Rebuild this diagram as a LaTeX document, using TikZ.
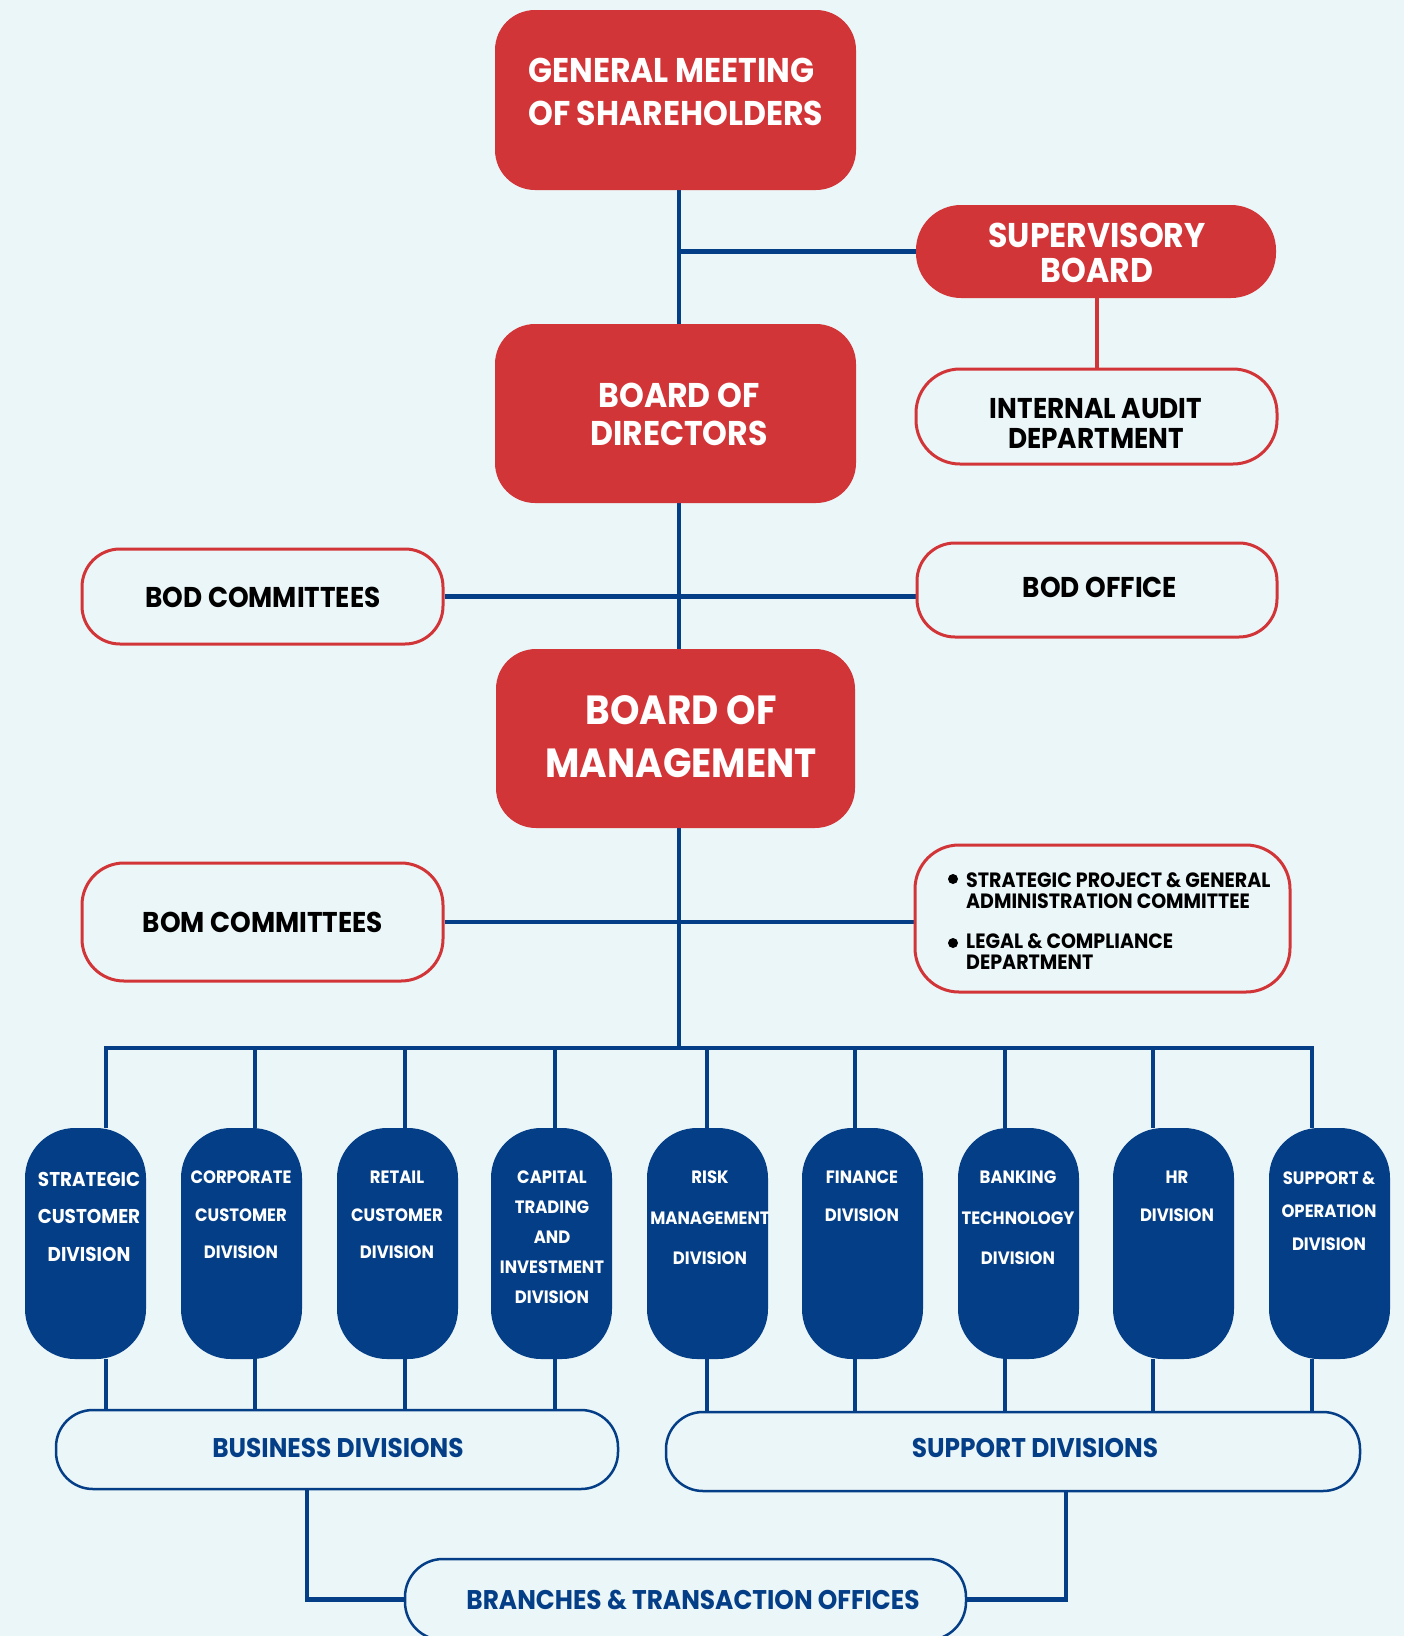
\documentclass[tikz,border=0pt]{standalone}
\usepackage{fontspec}
\newfontfamily\hf{Poppins}[FakeStretch=0.92]
\usetikzlibrary{calc}
\definecolor{bgc}{RGB}{235,246,248}
\definecolor{rc}{RGB}{210,53,56}
\definecolor{nv}{RGB}{4,62,135}
\pgfdeclarelayer{bglayer}
\pgfdeclarelayer{lines}
\pgfsetlayers{bglayer,lines,main}
\newcommand\myfs[2]{\fontsize{#1}{#2}\selectfont}
\begin{document}
\begin{tikzpicture}[x=1pt,y=-1pt,
  redbox/.style={fill=rc, rounded corners=40pt, inner sep=0pt, minimum width=361pt},
  outbox/.style={draw=rc, line width=3pt, fill=bgc, rounded corners=38pt, inner sep=0pt},
  divbox/.style={fill=nv, rounded corners=50pt, inner sep=0pt, minimum width=121pt, minimum height=231pt},
  bluebox/.style={draw=nv, line width=2.5pt, fill=bgc, rounded corners=37pt, inner sep=0pt, minimum height=79pt},
  conn/.style={draw=nv, line width=4.5pt},
  rconn/.style={draw=rc, line width=4pt},
  txt/.style={inner sep=0pt, anchor=north, align=center, font=\hf\bfseries},
  wtxt/.style={txt, text=white},
  ktxt/.style={txt, text=black},
  btxt/.style={txt, text=nv},
  dtxt/.style={wtxt, font=\hf\bfseries\myfs{17.9}{#1}},
]
\begin{pgfonlayer}{bglayer}
\fill[bgc] (0,0) rectangle (1404,1636);
\end{pgfonlayer}
\useasboundingbox (0,0) rectangle (1404,1636);
\clip (0,0) rectangle (1404,1636);

% boxes
\node[redbox, minimum height=180pt] (gm) at (675.5,100) {};
\node[redbox, minimum width=360pt, minimum height=93pt, rounded corners=45pt] (sb) at (1096,251.5) {};
\node[outbox, minimum width=361pt, minimum height=95pt, rounded corners=44pt] (ia) at (1096.5,416.5) {};
\node[redbox, minimum height=179pt] (bod) at (675.5,413.5) {};
\node[outbox, minimum width=361pt, minimum height=95pt] (bodc) at (262.5,596.5) {};
\node[outbox, minimum width=360pt, minimum height=94pt] (bodo) at (1097,590) {};
\node[redbox, minimum width=359pt, minimum height=179pt] (bom) at (675.5,738.5) {};
\node[outbox, minimum width=361pt, minimum height=118pt, rounded corners=42pt] (bomc) at (262.5,922) {};
\node[outbox, minimum width=375pt, minimum height=147pt, rounded corners=44pt] (lst) at (1102.5,918.5) {};

\node[divbox] (d1) at (85.5,1243.5) {};
\node[divbox] (d2) at (241.5,1243.5) {};
\node[divbox] (d3) at (397.5,1243.5) {};
\node[divbox] (d4) at (551.5,1243.5) {};
\node[divbox] (d5) at (707.5,1243.5) {};
\node[divbox] (d6) at (862.5,1243.5) {};
\node[divbox] (d7) at (1018.5,1243.5) {};
\node[divbox] (d8) at (1173.5,1243.5) {};
\node[divbox] (d9) at (1329.5,1243.5) {};

\node[bluebox, minimum width=562pt] (busdiv) at (337,1449.5) {};
\node[bluebox, minimum width=694pt] (supdiv) at (1013,1451.5) {};
\node[bluebox, minimum width=561pt, minimum height=81pt, rounded corners=38pt] (branch) at (685.5,1599.5) {};

% texts
\node[wtxt, anchor=north west, align=left, font=\hf\bfseries\myfs{34.3}{43}] (gmt) at (528,58) {GENERAL MEETING\\OF SHAREHOLDERS};
\node[wtxt, font=\hf\bfseries\myfs{34.3}{35}] (sbt) at (1097,223) {SUPERVISORY\\BOARD};
\node[wtxt, font=\hf\bfseries\myfs{34.3}{37.5}] (bodt) at (679,383) {BOARD OF\\DIRECTORS};
\node[ktxt, font=\hf\bfseries\myfs{28.6}{30}] (iat) at (1096,398) {INTERNAL AUDIT\\DEPARTMENT};
\node[ktxt, font=\hf\bfseries\myfs{28.6}{30}] (bodct) at (263,587) {BOD COMMITTEES};
\node[ktxt, font=\hf\bfseries\myfs{28.6}{30}] (bodot) at (1100,577) {BOD OFFICE};
\node[wtxt, font=\hf\bfseries\myfs{40.7}{53}] (bomt) at (681,695) {BOARD OF\\MANAGEMENT};
\node[ktxt, font=\hf\bfseries\myfs{28.6}{30}] (bomct) at (263,912) {BOM COMMITTEES};
\node[ktxt, anchor=north west, align=left, font=\hf\bfseries\myfs{20.7}{21}] (l1) at (966,872) {STRATEGIC PROJECT \& GENERAL\\ADMINISTRATION COMMITTEE};
\node[ktxt, anchor=north west, align=left, font=\hf\bfseries\myfs{20.7}{21}] (l2) at (966,933) {LEGAL \& COMPLIANCE\\DEPARTMENT};
\fill[black] (953,879) circle (5);
\fill[black] (953,943) circle (5);

\node[wtxt, font=\hf\bfseries\myfs{20}{37.5}] (d1t) at (89,1172) {STRATEGIC\\CUSTOMER\\DIVISION};
\node[dtxt=37.5] (d2t) at (241,1171) {CORPORATE\\CUSTOMER\\DIVISION};
\node[dtxt=37.5] (d3t) at (397,1171) {RETAIL\\CUSTOMER\\DIVISION};
\node[dtxt=30] (d4t) at (552,1171) {CAPITAL\\TRADING\\AND\\INVESTMENT\\DIVISION};
\node[dtxt=40.5] (d5t) at (710,1171) {RISK\\MANAGEMENT\\DIVISION};
\node[dtxt=38] (d6t) at (862,1171) {FINANCE\\DIVISION};
\node[dtxt=40.5] (d7t) at (1018,1171) {BANKING\\TECHNOLOGY\\DIVISION};
\node[dtxt=38] (d8t) at (1177,1171) {HR\\DIVISION};
\node[dtxt=33] (d9t) at (1329,1171) {SUPPORT \&\\OPERATION\\DIVISION};

\node[btxt, font=\hf\bfseries\myfs{27}{30}] (busdivt) at (338,1438) {BUSINESS DIVISIONS};
\node[btxt, font=\hf\bfseries\myfs{27}{30}] (supdivt) at (1035,1438) {SUPPORT DIVISIONS};
\node[btxt, font=\hf\bfseries\myfs{27}{30}] (brancht) at (693,1590) {BRANCHES \& TRANSACTION OFFICES};

% coordinates for connector positions
\coordinate (cx) at (679,0);
\coordinate (bus) at (0,1048);
\coordinate (t1) at (106,0);
\coordinate (t2) at (255,0);
\coordinate (t3) at (405,0);
\coordinate (t4) at (555,0);
\coordinate (t5) at (707,0);
\coordinate (t6) at (855,0);
\coordinate (t7) at (1005,0);
\coordinate (t8) at (1153,0);
\coordinate (t9) at (1312,0);
\coordinate (sbx) at (1097,0);
\coordinate (bx) at (307,0);
\coordinate (sx) at (1066,0);

\begin{pgfonlayer}{lines}
\draw[conn] (gm.south -| cx) -- (bod.north -| cx);
\draw[conn] (cx |- sb.west) -- (sb.west);
\draw[rconn] (sb.south -| sbx) -- (ia.north -| sbx);
\draw[conn] (bod.south -| cx) -- (bom.north -| cx);
\draw[conn] (bodc.east) -- (bodc.east -| bodo.west);
\draw[conn] (bom.south -| cx) -- (cx |- bus);
\draw[conn] (bomc.east) -- (bomc.east -| lst.west);
\draw[conn, line join=miter] (t1 |- d1.north) -- (t1 |- bus) -- (t9 |- bus) -- (t9 |- d9.north);
\draw[conn] (t2 |- bus) -- (t2 |- d2.north);
\draw[conn] (t3 |- bus) -- (t3 |- d3.north);
\draw[conn] (t4 |- bus) -- (t4 |- d4.north);
\draw[conn] (t5 |- bus) -- (t5 |- d5.north);
\draw[conn] (t6 |- bus) -- (t6 |- d6.north);
\draw[conn] (t7 |- bus) -- (t7 |- d7.north);
\draw[conn] (t8 |- bus) -- (t8 |- d8.north);
\draw[conn] (t1 |- d1.south) -- (t1 |- busdiv.north);
\draw[conn] (t2 |- d2.south) -- (t2 |- busdiv.north);
\draw[conn] (t3 |- d3.south) -- (t3 |- busdiv.north);
\draw[conn] (t4 |- d4.south) -- (t4 |- busdiv.north);
\draw[conn] (t5 |- d5.south) -- (t5 |- supdiv.north);
\draw[conn] (t6 |- d6.south) -- (t6 |- supdiv.north);
\draw[conn] (t7 |- d7.south) -- (t7 |- supdiv.north);
\draw[conn] (t8 |- d8.south) -- (t8 |- supdiv.north);
\draw[conn] (t9 |- d9.south) -- (t9 |- supdiv.north);
\draw[conn, line join=miter] (busdiv.south -| bx) |- (branch.west);
\draw[conn, line join=miter] (supdiv.south -| sx) |- (branch.east);
\end{pgfonlayer}
\end{tikzpicture}
\end{document}
